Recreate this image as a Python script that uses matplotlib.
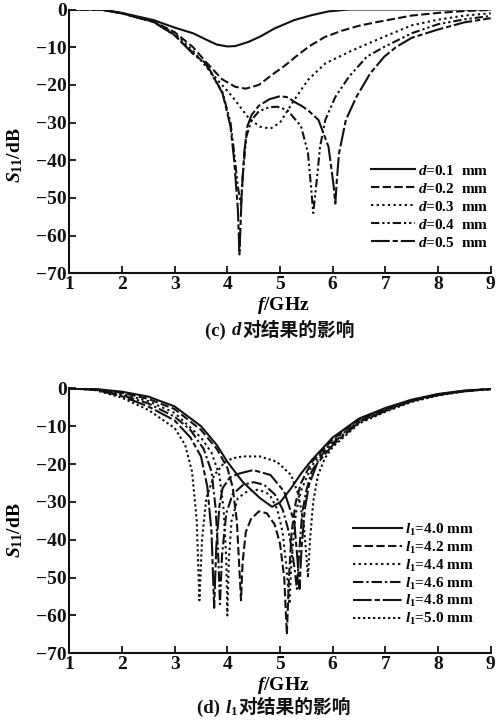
import matplotlib
matplotlib.use('Agg')
import matplotlib.pyplot as plt
from matplotlib.offsetbox import TextArea, HPacker, AnnotationBbox

plt.rcParams['font.family'] = ['Liberation Serif', 'Noto Sans CJK SC']
plt.rcParams['font.weight'] = 'bold'
plt.rcParams['mathtext.fontset'] = 'custom'
plt.rcParams['mathtext.rm'] = 'Liberation Serif:bold'
plt.rcParams['mathtext.it'] = 'Liberation Serif:italic:bold'
plt.rcParams['mathtext.bf'] = 'Liberation Serif:bold'

# ---- panel (c): effect of d ----
d_labels = ['0.1', '0.2', '0.3', '0.4', '0.5']

f_d01 = [1.0, 1.6, 2.0, 2.6, 3.0, 3.35, 3.6, 3.8, 4.0, 4.15, 4.4, 4.62, 4.9, 5.27, 5.6, 5.92, 6.3, 7.0, 8.0, 9.0]
s_d01 = [0, 0, -0.9, -2.8, -4.8, -6.3, -8.0, -9.3, -9.8, -9.7, -8.6, -7.2, -5.0, -2.8, -1.5, -0.5, 0, 0, 0, 0]

f_d02 = [1.0, 1.6, 2.0, 2.6, 3.0, 3.35, 3.6, 3.9, 4.15, 4.35, 4.6, 4.88, 5.1, 5.3, 5.55, 5.85, 6.18, 6.5, 6.85, 7.5, 8.0, 8.5, 9.0]
s_d02 = [0, 0, -1.0, -3.2, -6.0, -10.0, -14.0, -18.5, -20.5, -21.0, -20.0, -17.0, -14.8, -12.5, -9.8, -7.3, -5.6, -4.3, -3.3, -1.6, -0.9, -0.4, -0.1]

f_d03 = [1.0, 1.6, 2.0, 2.6, 3.0, 3.35, 3.71, 4.1, 4.41, 4.62, 4.82, 5.0, 5.27, 5.53, 5.86, 6.38, 6.98, 7.5, 8.0, 8.5, 9.0]
s_d03 = [0, 0, -1.0, -3.3, -6.3, -11.0, -17.0, -23.2, -28.9, -31.1, -31.6, -30.0, -24.0, -18.7, -14.3, -10.8, -7.2, -4.2, -2.7, -1.6, -1.0]

f_d04 = [1.0, 1.6, 2.0, 2.6, 3.0, 3.35, 3.6, 3.91, 4.06, 4.13, 4.2, 4.26, 4.29, 4.36, 4.46, 4.6, 4.8, 4.95, 5.14, 5.4, 5.53,
         5.6, 5.63, 5.7, 5.76, 5.86, 6.05, 6.31, 6.65, 6.98, 7.5, 8.0, 8.5, 9.0]
s_d04 = [0, 0, -1.0, -3.3, -6.8, -11.5, -14.8, -22.0, -30.0, -38.0, -47.0, -52.0, -44.4, -33.8, -29.3, -27.0, -25.9, -25.8, -26.7, -31.0, -38.0,
         -48.8, -54.0, -45.0, -36.4, -29.3, -23.2, -17.8, -12.5, -9.9, -6.3, -3.9, -2.6, -1.7]

f_d05 = [1.0, 1.6, 2.0, 2.6, 3.0, 3.35, 3.6, 3.91, 4.06, 4.13, 4.2, 4.23, 4.27, 4.32, 4.38, 4.46, 4.6, 4.8, 5.0, 5.15, 5.27, 5.4, 5.53,
         5.73, 5.92, 6.02, 6.05, 6.08, 6.12, 6.25, 6.45, 6.71, 6.98, 7.2, 7.5, 8.0, 8.5, 9.0]
s_d05 = [0, 0, -1.0, -3.3, -6.8, -11.8, -14.3, -22.3, -31.0, -40.0, -53.0, -65.0, -50.0, -38.0, -31.0, -28.0, -25.5, -23.8, -23.0, -23.3, -24.5, -25.5, -26.7,
         -29.3, -36.4, -47.0, -51.5, -45.0, -38.2, -29.3, -23.2, -17.0, -12.5, -10.0, -7.5, -5.3, -3.4, -2.3]

# ---- panel (d): effect of l1 ----
l_labels = ['4.0', '4.2', '4.4', '4.6', '4.8', '5.0']

f_l40 = [1.0, 1.5, 2.0, 2.5, 3.0, 3.5, 3.8, 4.0, 4.29, 4.62, 4.85, 5.01, 5.21, 5.4, 5.6, 5.8, 6.0, 6.5, 7.0, 7.5, 8.0, 8.5, 9.0]
s_l40 = [0, -0.2, -0.9, -2.2, -4.8, -10.0, -15.0, -19.4, -24.7, -29.0, -31.3, -30.0, -26.4, -22.5, -19.0, -16.0, -13.0, -8.0, -5.2, -3.0, -1.5, -0.6, -0.2]

f_l42 = [1.0, 1.5, 2.0, 2.5, 3.0, 3.5, 3.8, 4.0, 4.1, 4.18, 4.23, 4.26, 4.29, 4.35, 4.45, 4.6, 4.75, 4.9, 5.0, 5.08, 5.13, 5.17,
         5.22, 5.3, 5.4, 5.6, 5.8, 6.0, 6.5, 7.0, 7.5, 8.0, 8.5, 9.0]
s_l42 = [0, -0.3, -1.2, -2.8, -5.5, -11.0, -16.0, -21.0, -26.0, -35.0, -48.0, -56.0, -46.0, -38.0, -34.5, -32.5, -33.0, -36.0, -41.0, -50.0, -65.0, -50.0,
         -38.0, -30.0, -25.0, -19.5, -16.5, -13.5, -8.3, -5.5, -3.2, -1.6, -0.7, -0.2]

f_l44 = [1.0, 1.5, 2.0, 2.5, 3.0, 3.5, 3.7, 3.85, 3.93, 3.98, 4.0, 4.03, 4.08, 4.2, 4.4, 4.6, 4.8, 4.95, 5.05, 5.12, 5.18, 5.22,
         5.3, 5.4, 5.6, 5.8, 6.0, 6.5, 7.0, 7.5, 8.0, 8.5, 9.0]
s_l44 = [0, -0.3, -1.5, -3.4, -6.5, -13.0, -17.0, -23.0, -32.0, -45.0, -60.0, -45.0, -35.0, -29.0, -27.0, -26.8, -28.0, -32.0, -38.0, -47.0, -57.0, -45.0,
         -33.0, -27.0, -20.5, -17.0, -14.0, -8.6, -5.7, -3.3, -1.7, -0.7, -0.2]

f_l46 = [1.0, 1.5, 2.0, 2.5, 3.0, 3.3, 3.55, 3.7, 3.78, 3.83, 3.86, 3.9, 3.98, 4.1, 4.3, 4.5, 4.7, 4.9, 5.05, 5.15, 5.22, 5.28,
         5.32, 5.36, 5.42, 5.5, 5.6, 5.8, 6.0, 6.5, 7.0, 7.5, 8.0, 8.5, 9.0]
s_l46 = [0, -0.4, -1.8, -4.0, -7.5, -11.0, -16.0, -22.0, -32.0, -45.0, -57.0, -44.0, -33.0, -28.0, -25.5, -24.8, -25.5, -28.0, -32.0, -37.0, -42.0, -48.0,
         -53.0, -44.0, -33.0, -27.0, -22.0, -17.5, -14.5, -8.8, -5.8, -3.3, -1.7, -0.7, -0.2]

f_l48 = [1.0, 1.5, 2.0, 2.5, 3.0, 3.3, 3.5, 3.62, 3.7, 3.75, 3.79, 3.85, 3.91, 4.05, 4.23, 4.49, 4.82, 5.08, 5.27, 5.33, 5.37, 5.41,
         5.47, 5.55, 5.7, 5.85, 6.0, 6.5, 7.0, 7.5, 8.0, 8.5, 9.0]
s_l48 = [0, -0.4, -2.1, -4.8, -8.5, -13.0, -18.0, -26.0, -38.0, -58.0, -42.0, -31.0, -26.4, -23.5, -22.5, -21.6, -22.9, -27.3, -35.2, -45.0, -53.0, -42.0,
         -32.0, -25.5, -20.0, -17.5, -15.0, -9.0, -6.0, -3.4, -1.8, -0.8, -0.2]

f_l50 = [1.0, 1.5, 2.0, 2.5, 3.0, 3.2, 3.33, 3.42, 3.47, 3.52, 3.6, 3.75, 3.95, 4.1, 4.29, 4.62, 4.94, 5.21, 5.35, 5.45, 5.5, 5.53,
         5.57, 5.63, 5.72, 5.85, 6.0, 6.5, 7.0, 7.5, 8.0, 8.5, 9.0]
s_l50 = [0, -0.5, -2.5, -5.7, -10.5, -15.0, -22.0, -35.0, -56.0, -40.0, -29.0, -23.0, -19.5, -18.5, -18.0, -18.0, -19.4, -22.9, -28.0, -36.0, -44.0, -50.0,
         -40.0, -30.0, -23.0, -18.5, -15.5, -9.3, -6.2, -3.6, -1.9, -0.8, -0.2]

xticks = [1, 2, 3, 4, 5, 6, 7, 8, 9]
yticks = [0, -10, -20, -30, -40, -50, -60, -70]

# line styles
ls_solid = '-'
ls_dash = (0, (4, 1.6))
ls_dot = (0, (1.1, 1.6))
ls_dashdotdot = (0, (4, 1.4, 1.1, 1.4, 1.1, 1.4))
ls_longshort = (0, (9, 1.4, 2.5, 1.4))
ls_dashdot = (0, (5, 1.4, 1.1, 1.4))
ls_dot2 = (0, (1.1, 1.3))

fig = plt.figure(figsize=(4.97, 7.22), dpi=100)
ax1 = fig.add_axes([0.1394, 0.6215, 0.848, 0.3653])
ax2 = fig.add_axes([0.1394, 0.0951, 0.848, 0.3671])

col = '#111111'


def style_axes(ax):
    ax.set_xlim(1, 9)
    ax.set_ylim(-70, 0)
    ax.set_xticks(xticks)
    ax.set_yticks(yticks)
    for s in ['top', 'right']:
        ax.spines[s].set_visible(False)
    for s in ['left', 'bottom']:
        ax.spines[s].set_linewidth(1.5)
        ax.spines[s].set_color(col)
    ax.tick_params(direction='in', length=5, width=1.3, labelsize=14, colors=col)
    ax.tick_params(axis='y', pad=2)
    ax.tick_params(axis='x', pad=2)
    for lab in ax.get_xticklabels() + ax.get_yticklabels():
        lab.set_fontweight('bold')


lw = 1.5
ax1.plot(f_d01, s_d01, color=col, lw=lw, ls=ls_solid, label=r'$d$=' + d_labels[0] + '  mm')
ax1.plot(f_d02, s_d02, color=col, lw=lw, ls=ls_dash, label=r'$d$=' + d_labels[1] + '  mm')
ax1.plot(f_d03, s_d03, color=col, lw=lw, ls=ls_dot, label=r'$d$=' + d_labels[2] + '  mm')
ax1.plot(f_d04, s_d04, color=col, lw=lw, ls=ls_dashdotdot, label=r'$d$=' + d_labels[3] + '  mm')
ax1.plot(f_d05, s_d05, color=col, lw=lw, ls=ls_longshort, label=r'$d$=' + d_labels[4] + '  mm')
style_axes(ax1)
ax1.legend(loc='upper left', bbox_to_anchor=(363 / 497, 1 - 156 / 722), bbox_transform=fig.transFigure,
           frameon=False, borderpad=0, handlelength=2.9, handletextpad=0.2, labelspacing=0.26,
           prop={'size': 11, 'weight': 'bold'})

ax2.plot(f_l40, s_l40, color=col, lw=lw, ls=ls_solid, label=r'$l_1$=' + l_labels[0] + ' mm')
ax2.plot(f_l42, s_l42, color=col, lw=lw, ls=ls_dash, label=r'$l_1$=' + l_labels[1] + ' mm')
ax2.plot(f_l44, s_l44, color=col, lw=lw, ls=ls_dot, label=r'$l_1$=' + l_labels[2] + ' mm')
ax2.plot(f_l46, s_l46, color=col, lw=lw, ls=ls_dashdot, label=r'$l_1$=' + l_labels[3] + ' mm')
ax2.plot(f_l48, s_l48, color=col, lw=lw, ls=ls_longshort, label=r'$l_1$=' + l_labels[4] + ' mm')
ax2.plot(f_l50, s_l50, color=col, lw=lw, ls=ls_dot2, label=r'$l_1$=' + l_labels[5] + ' mm')
style_axes(ax2)
ax2.legend(loc='upper left', bbox_to_anchor=(345 / 497, 1 - 514 / 722), bbox_transform=fig.transFigure,
           frameon=False, borderpad=0, handlelength=3.2, handletextpad=0.2, labelspacing=0.12,
           prop={'size': 11, 'weight': 'bold'})

# axis labels
fig.text(15 / 497, 1 - 155 / 722, r'$S_{11}$/dB', rotation=90, ha='center', va='center', fontsize=14, fontweight='bold')
fig.text(15 / 497, 1 - 530 / 722, r'$S_{11}$/dB', rotation=90, ha='center', va='center', fontsize=14, fontweight='bold')
fig.text(283 / 497, 1 - 305 / 722, r'$f$/GHz', ha='center', va='center', fontsize=14, fontweight='bold')
fig.text(283 / 497, 1 - 685 / 722, r'$f$/GHz', ha='center', va='center', fontsize=14, fontweight='bold')


def caption(parts, xy):
    boxes = []
    for txt, fam in parts:
        boxes.append(TextArea(txt, textprops=dict(family=fam, fontsize=13.5, fontweight='bold', color=col)))
    pack = HPacker(children=boxes, align='baseline', pad=0, sep=0)
    ab = AnnotationBbox(pack, xy, xycoords='figure fraction', frameon=False, box_alignment=(0.5, 0.5))
    fig.add_artist(ab)


caption([('(c) ', ['Liberation Serif']), (r'$d$', ['Liberation Serif']), ('对结果的影响', ['Noto Sans CJK SC'])],
        (280 / 497, 1 - 330 / 722))
caption([('(d) ', ['Liberation Serif']), (r'$l_1$', ['Liberation Serif']), ('对结果的影响', ['Noto Sans CJK SC'])],
        (274 / 497, 1 - 708 / 722))

fig.savefig('out.png', dpi=100)
